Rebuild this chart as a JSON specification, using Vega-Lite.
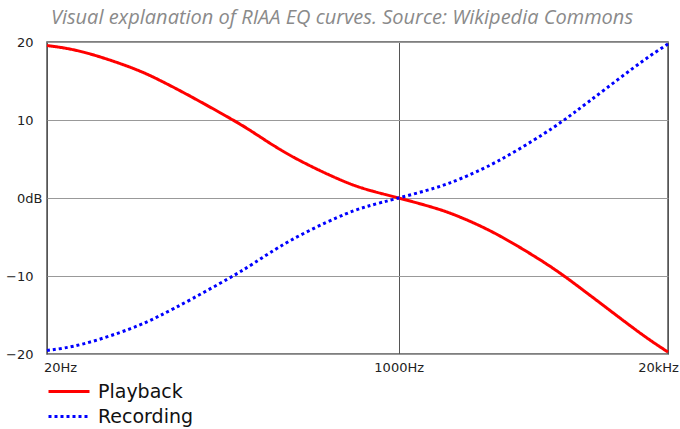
{
  "$schema": "https://vega.github.io/schema/vega-lite/v6.json",
  "autosize": {"type": "none"},
  "padding": {"left": 47, "top": 42, "right": 12, "bottom": 75},
  "width": 621,
  "height": 312,
  "background": "white",
  "title": {
    "text": "Visual explanation of RIAA EQ curves. Source: Wikipedia Commons",
    "font": "Open Sans",
    "fontSize": 20,
    "fontStyle": "italic",
    "fontWeight": "normal",
    "color": "#8a8a8a",
    "anchor": "middle",
    "frame": "bounds",
    "offset": 8
  },
  "data": {
    "values": [
      {"f": 20, "db": 19.55, "curve": "Playback"},
      {"f": 30, "db": 18.7, "curve": "Playback"},
      {"f": 50, "db": 16.8, "curve": "Playback"},
      {"f": 70, "db": 15.1, "curve": "Playback"},
      {"f": 100, "db": 12.95, "curve": "Playback"},
      {"f": 150, "db": 10.35, "curve": "Playback"},
      {"f": 200, "db": 8.35, "curve": "Playback"},
      {"f": 300, "db": 5.45, "curve": "Playback"},
      {"f": 500, "db": 2.55, "curve": "Playback"},
      {"f": 700, "db": 1.1, "curve": "Playback"},
      {"f": 1000, "db": 0, "curve": "Playback"},
      {"f": 1500, "db": -1.3, "curve": "Playback"},
      {"f": 2000, "db": -2.5, "curve": "Playback"},
      {"f": 3000, "db": -4.7, "curve": "Playback"},
      {"f": 5000, "db": -8.2, "curve": "Playback"},
      {"f": 7000, "db": -10.9, "curve": "Playback"},
      {"f": 10000, "db": -14.0, "curve": "Playback"},
      {"f": 15000, "db": -17.5, "curve": "Playback"},
      {"f": 20000, "db": -19.75, "curve": "Playback"},
      {"f": 20, "db": -19.55, "curve": "Recording"},
      {"f": 30, "db": -18.7, "curve": "Recording"},
      {"f": 50, "db": -16.8, "curve": "Recording"},
      {"f": 70, "db": -15.1, "curve": "Recording"},
      {"f": 100, "db": -12.95, "curve": "Recording"},
      {"f": 150, "db": -10.35, "curve": "Recording"},
      {"f": 200, "db": -8.35, "curve": "Recording"},
      {"f": 300, "db": -5.45, "curve": "Recording"},
      {"f": 500, "db": -2.55, "curve": "Recording"},
      {"f": 700, "db": -1.1, "curve": "Recording"},
      {"f": 1000, "db": 0, "curve": "Recording"},
      {"f": 1500, "db": 1.3, "curve": "Recording"},
      {"f": 2000, "db": 2.5, "curve": "Recording"},
      {"f": 3000, "db": 4.7, "curve": "Recording"},
      {"f": 5000, "db": 8.2, "curve": "Recording"},
      {"f": 7000, "db": 10.9, "curve": "Recording"},
      {"f": 10000, "db": 14.0, "curve": "Recording"},
      {"f": 15000, "db": 17.5, "curve": "Recording"},
      {"f": 20000, "db": 19.75, "curve": "Recording"}
    ]
  },
  "mark": {"type": "line", "interpolate": "natural", "strokeWidth": 3, "clip": false},
  "encoding": {
    "x": {
      "field": "f",
      "type": "quantitative",
      "scale": {"type": "log", "domain": [20, 20000], "nice": false},
      "axis": {
        "title": null,
        "values": [20, 1000, 20000],
        "labelExpr": "datum.value == 20 ? '20Hz' : datum.value == 1000 ? '1000Hz' : '20kHz'",
        "grid": true,
        "gridColor": "#555555",
        "gridWidth": 1,
        "labelFlush": false,
        "labelPadding": 7,
        "labelOffset": {"condition": [{"test": "datum.value < 100", "value": 13}, {"test": "datum.value > 10000", "value": -10}], "value": 0}
      }
    },
    "y": {
      "field": "db",
      "type": "quantitative",
      "scale": {"domain": [-20, 20], "nice": false},
      "axis": {
        "title": null,
        "values": [-20, -10, 0, 10, 20],
        "labelExpr": "datum.value == 0 ? '0dB' : datum.label",
        "grid": true,
        "gridColor": "#999999",
        "gridWidth": 1,
        "labelPadding": {"condition": {"test": "datum.value == 0", "value": 5}, "value": 14},
        "labelFlush": false
      }
    },
    "color": {
      "field": "curve",
      "type": "nominal",
      "scale": {"domain": ["Playback", "Recording"], "range": ["#ff0000", "#0000ff"]},
      "legend": {
        "title": null,
        "orient": "none",
        "legendX": 0,
        "legendY": 337,
        "direction": "vertical",
        "symbolType": "stroke",
        "symbolSize": 1681,
        "symbolStrokeWidth": 3,
        "labelFont": "DejaVu Sans",
        "labelFontSize": 19,
        "labelColor": "#111111",
        "labelOffset": 7,
        "clipHeight": 25,
        "rowPadding": 0,
        "padding": 0
      }
    },
    "strokeDash": {
      "field": "curve",
      "type": "nominal",
      "scale": {"domain": ["Playback", "Recording"], "range": [[1, 0], [3, 3]]},
      "legend": {
        "title": null,
        "orient": "none",
        "legendX": 0,
        "legendY": 337,
        "direction": "vertical",
        "symbolType": "stroke",
        "symbolSize": 1681,
        "symbolStrokeWidth": 3,
        "labelFont": "DejaVu Sans",
        "labelFontSize": 19,
        "labelColor": "#111111",
        "labelOffset": 7,
        "clipHeight": 25,
        "rowPadding": 0,
        "padding": 0
      }
    }
  },
  "config": {
    "view": {"stroke": "#555555", "strokeWidth": 1.5},
    "axis": {
      "domain": false,
      "ticks": false,
      "tickSize": 0,
      "labelFont": "DejaVu Sans",
      "labelFontSize": 13,
      "labelColor": "#222222"
    }
  }
}
